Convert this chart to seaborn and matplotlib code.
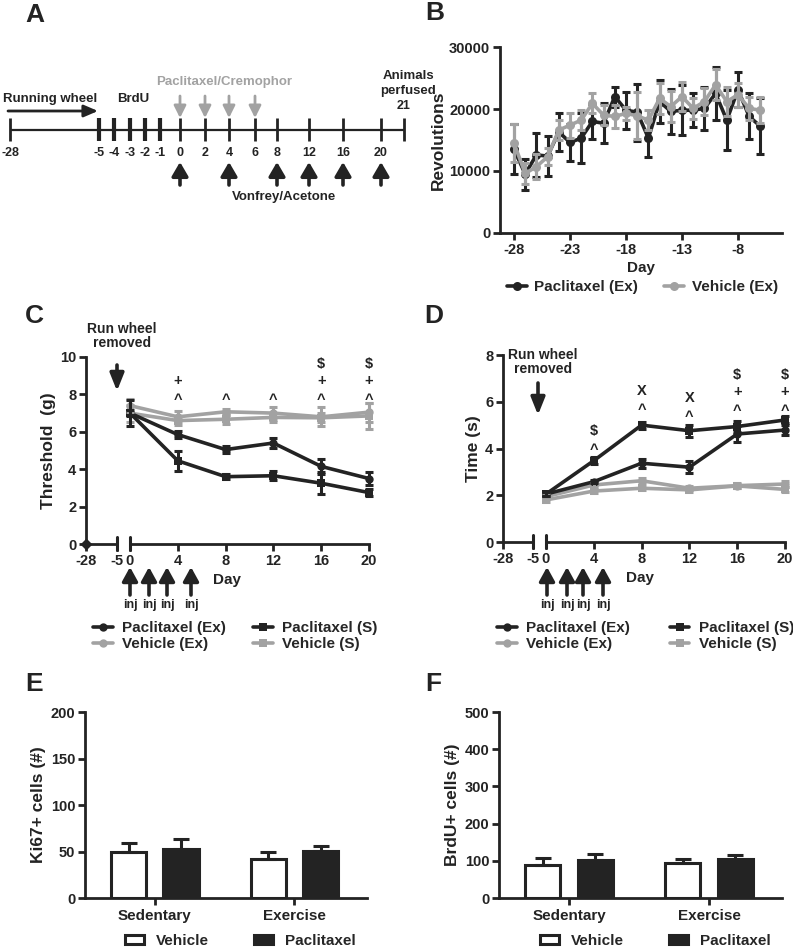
import numpy as np
import pandas as pd
import matplotlib
matplotlib.use("Agg")
import matplotlib.pyplot as plt
from matplotlib.lines import Line2D
from matplotlib.patches import Patch
import seaborn as sns

# ------------------------------------------------------------------ data
# Panel A: experimental timeline
timeline_days = [-28, -5, -4, -3, -2, -1, 0, 2, 4, 6, 8, 12, 16, 20]
timeline_end_day = 21
brdu_days = [-5, -4, -3, -2, -1]
injection_days = [0, 2, 4, 6]
behavior_days = [0, 4, 8, 12, 16, 20]

# Panel B: wheel running (revolutions)
b_days = list(range(-28, -5))
b_pac_mean = [13500, 9500, 12600, 12400, 16300, 14600, 15300, 18000, 17700, 22000, 19800, 19500,
              15300, 21200, 19600, 19800, 19800, 20100, 22500, 18200, 23100, 18800, 17200]
b_pac_sem = [4000, 2500, 3600, 3200, 3000, 3000, 4000, 2800, 3200, 1600, 3000, 4600,
             3000, 3400, 3600, 4000, 2700, 3500, 4300, 4800, 2800, 3700, 4500]
b_veh_mean = [14500, 9600, 10700, 12300, 16600, 17400, 18200, 20900, 19000, 18800, 19300, 18900,
              18200, 21700, 20400, 22000, 20100, 21200, 23900, 21200, 22300, 20100, 19800]
b_veh_sem = [3000, 1700, 2000, 1400, 1600, 2000, 1600, 1600, 1600, 1800, 1100, 3800,
             1600, 2500, 2500, 2300, 1700, 2200, 2500, 2300, 1900, 1900, 2100]

# Panels C/D: behaviour days
cd_days = [0, 4, 8, 12, 16, 20]
cd_groups = ["Paclitaxel (Ex)", "Vehicle (Ex)", "Paclitaxel (S)", "Vehicle (S)"]

# Panel C: von Frey threshold (g)
c_pac_ex = [7.0, 5.85, 5.05, 5.4, 4.15, 3.5]
c_pac_ex_sem = [0.15, 0.2, 0.2, 0.25, 0.4, 0.35]
c_veh_ex = [7.4, 6.8, 7.07, 7.0, 6.8, 7.05]
c_veh_ex_sem = [0.35, 0.3, 0.15, 0.35, 0.5, 0.5]
c_pac_s = [7.0, 4.45, 3.6, 3.65, 3.25, 2.75]
c_pac_s_sem = [0.7, 0.55, 0.15, 0.25, 0.6, 0.2]
c_veh_s = [7.0, 6.6, 6.67, 6.77, 6.75, 6.85]
c_veh_s_sem = [0.45, 0.25, 0.25, 0.25, 0.25, 0.7]
c_sig_days = [4, 8, 12, 16, 20]
c_sig_marks = [["^", "+"], ["^"], ["^"], ["^", "+", "$"], ["^", "+", "$"]]

# Panel D: acetone response time (s)
d_pac_ex = [2.05, 2.58, 3.37, 3.2, 4.62, 4.79]
d_pac_ex_sem = [0.08, 0.06, 0.2, 0.25, 0.35, 0.2]
d_veh_ex = [1.94, 2.44, 2.62, 2.3, 2.41, 2.48]
d_veh_ex_sem = [0.1, 0.08, 0.1, 0.08, 0.1, 0.12]
d_pac_s = [2.05, 3.48, 5.0, 4.76, 4.94, 5.22]
d_pac_s_sem = [0.08, 0.15, 0.15, 0.25, 0.25, 0.15]
d_veh_s = [1.8, 2.18, 2.3, 2.23, 2.4, 2.25]
d_veh_s_sem = [0.1, 0.08, 0.08, 0.1, 0.08, 0.1]
d_sig_days = [4, 8, 12, 16, 20]
d_sig_marks = [["^", "$"], ["^", "X"], ["^", "X"], ["^", "+", "$"], ["^", "+", "$"]]

# Panels E/F: cell counts
ef_groups = ["Sedentary", "Exercise"]
ef_treatments = ["Vehicle", "Paclitaxel"]
e_vehicle = [50, 42]
e_vehicle_sem = [9, 8]
e_paclitaxel = [53, 51]
e_paclitaxel_sem = [10, 5]
f_vehicle = [90, 93]
f_vehicle_sem = [18, 12]
f_paclitaxel = [101, 106]
f_paclitaxel_sem = [17, 9]

# ------------------------------------------------------------------ style / layout
sns.set_theme(style="ticks")
plt.rcParams["font.family"] = ["Liberation Sans", "DejaVu Sans"]
plt.rcParams["font.weight"] = "bold"
plt.rcParams["axes.labelweight"] = "bold"
plt.rcParams["axes.unicode_minus"] = False

W, H, DPI = 793, 947, 100
DARK = "#232323"
GRAY = "#a2a2a2"
TICK_FS = 10.5
LABEL_FS = 12.5
LEG_FS = 11

fig = plt.figure(figsize=(W / DPI, H / DPI), dpi=DPI)
fig.patch.set_facecolor("white")


def rect(x0, y0, x1, y1):
    return [x0 / W, 1 - y1 / H, (x1 - x0) / W, (y1 - y0) / H]


# overlay in pixel coordinates for schematic / annotations
ov = fig.add_axes([0, 0, 1, 1])
ov.set_xlim(0, W)
ov.set_ylim(H, 0)
ov.axis("off")


def arrow(ax, x, y_tail, y_tip, color, lw=2.6, hw=0.3, hl=0.55, ms=14, x_tail=None):
    ax.annotate("", xy=(x, y_tip), xytext=(x if x_tail is None else x_tail, y_tail),
                arrowprops=dict(arrowstyle=f"-|>,head_width={hw},head_length={hl}",
                                color=color, lw=lw, mutation_scale=ms,
                                shrinkA=0, shrinkB=0))


def style_axes(ax, left=True):
    sns.despine(ax=ax)
    for s in ["left", "bottom"]:
        ax.spines[s].set_linewidth(2.0)
        ax.spines[s].set_color(DARK)
    ax.tick_params(width=2, length=5, color=DARK, labelsize=TICK_FS, pad=2,
                   labelcolor=DARK)
    if not left:
        ax.spines["left"].set_visible(False)
        ax.tick_params(axis="y", left=False, labelleft=False)
    ax.set_facecolor("none")
    ax.grid(False)


# panel letters
for letter, (x, y) in {"A": (35, 15), "B": (435, 13), "C": (34, 316),
                       "D": (434, 316), "E": (34, 684), "F": (433, 684)}.items():
    ov.text(x, y, letter, fontsize=19, fontweight="bold", ha="center", va="center", color=DARK)

# ------------------------------------------------------------------ Panel A
timeline_px = [10, 99, 114, 130, 145, 160, 180, 205, 229, 255, 277, 309, 343, 381]
end_px = 404
day_px = dict(zip(timeline_days, timeline_px))
TL_Y = 130
ov.plot([timeline_px[0], end_px + 1], [TL_Y, TL_Y], color=DARK, lw=1.6, solid_capstyle="butt")
for d, x in zip(timeline_days, timeline_px):
    ov.plot([x, x], [118, 141], color=DARK, lw=3.0 if d in brdu_days else 2.0,
            solid_capstyle="butt")
    ov.text(x, 153, str(d), fontsize=9, ha="center", va="center", color=DARK)
ov.plot([end_px, end_px], [118, 141], color=DARK, lw=2.0, solid_capstyle="butt")
ov.text(end_px, 106, str(timeline_end_day), fontsize=9, ha="center", va="center", color=DARK)
ov.text(408, 76, "Animals", fontsize=9.5, ha="center", va="center", color=DARK)
ov.text(408, 91, "perfused", fontsize=9.5, ha="center", va="center", color=DARK)
ov.text(3, 99, "Running wheel", fontsize=9.5, ha="left", va="center", color=DARK)
arrow(ov, 98, 111, 111, DARK, lw=2.0, hw=0.3, hl=0.7, ms=12, x_tail=8)
ov.text(133, 99, "BrdU", fontsize=9.5, ha="center", va="center", color=DARK)
ov.text(224, 82, "Paclitaxel/Cremophor", fontsize=9.5, ha="center", va="center", color=GRAY)
for d in injection_days:
    arrow(ov, day_px[d], 96, 118, GRAY, lw=2.0, hw=0.3, hl=0.6, ms=12)
for d in behavior_days:
    arrow(ov, day_px[d], 185, 162, DARK, lw=2.6, hw=0.35, hl=0.6, ms=14)
ov.text(284, 197, "Vonfrey/Acetone", fontsize=9.5, ha="center", va="center", color=DARK)

# ------------------------------------------------------------------ Panel B
axB = fig.add_axes(rect(500, 47, 782, 233))
nB = len(b_days)
dfB = pd.DataFrame({
    "day": b_days * 2,
    "rev": b_pac_mean + b_veh_mean,
    "sem": b_pac_sem + b_veh_sem,
    "group": ["Paclitaxel (Ex)"] * nB + ["Vehicle (Ex)"] * nB,
})
palB = {"Paclitaxel (Ex)": DARK, "Vehicle (Ex)": GRAY}
sns.lineplot(data=dfB, x="day", y="rev", hue="group", palette=palB, marker="o",
             markersize=6.5, markeredgewidth=0, linewidth=2.6, legend=False,
             errorbar=None, ax=axB)
for i, (g, c) in enumerate(palB.items()):
    sub = dfB[dfB["group"] == g]
    axB.errorbar(sub["day"], sub["rev"], yerr=sub["sem"], fmt="none", ecolor=c,
                 elinewidth=2.2, capsize=3.2, capthick=2.2, zorder=1.9 + i)
style_axes(axB)
axB.set_xlim(-29.25, -4.07)
axB.set_ylim(0, 30000)
axB.set_xticks([-28, -23, -18, -13, -8])
axB.set_yticks([0, 10000, 20000, 30000])
axB.set_xlabel("Day", fontsize=11, labelpad=3, color=DARK)
axB.set_ylabel("Revolutions", fontsize=LABEL_FS, labelpad=2, color=DARK)
hB = [Line2D([0], [0], color=c, marker="o", lw=2.6, ms=6.5, mew=0) for c in palB.values()]
fig.legend(hB, list(palB.keys()), loc="center left", bbox_to_anchor=(507 / W, 1 - 287 / H),
           ncol=2, frameon=False, fontsize=LEG_FS, handlelength=1.3, handletextpad=0.5,
           columnspacing=1.7, borderpad=0, borderaxespad=0)

# ------------------------------------------------------------------ Panels C & D
pal_cd = {"Paclitaxel (Ex)": DARK, "Vehicle (Ex)": GRAY, "Paclitaxel (S)": DARK, "Vehicle (S)": GRAY}
mk_cd = {"Paclitaxel (Ex)": "o", "Vehicle (Ex)": "o", "Paclitaxel (S)": "s", "Vehicle (S)": "s"}


def behaviour_panel(x0, x_break_l, x_break_r, x1, y0, y1, ymax, means, sems,
                    ylabel, sig_days, sig_marks, sig_base, sig_step, origin_marker,
                    label_x_px, legend_x, colspace, wheel_px, inj_px):
    axL = fig.add_axes(rect(x0, y0, x_break_l, y1))
    axR = fig.add_axes(rect(x_break_r, y0, x1, y1), sharey=axL)
    n = len(cd_days)
    df = pd.DataFrame({
        "day": cd_days * 4,
        "value": sum(means, []),
        "sem": sum(sems, []),
        "group": sum([[g] * n for g in cd_groups], []),
    })
    order = ["Vehicle (S)", "Vehicle (Ex)", "Paclitaxel (S)", "Paclitaxel (Ex)"]
    sns.lineplot(data=df, x="day", y="value", hue="group", style="group",
                 hue_order=order, style_order=order, palette=pal_cd, markers=mk_cd,
                 dashes=False, markersize=6, markeredgewidth=0, linewidth=2.6,
                 legend=False, errorbar=None, ax=axR)
    for line in axR.lines:
        line.set_clip_on(False)
    for g in order:
        sub = df[df["group"] == g]
        axR.errorbar(sub["day"], sub["value"], yerr=sub["sem"], fmt="none",
                     ecolor=pal_cd[g], elinewidth=2.2, capsize=3.2, capthick=2.2,
                     clip_on=False)
    if origin_marker:
        axL.plot([-28], [0], marker="D", ms=5.5, color=DARK, clip_on=False, zorder=5)
    style_axes(axL)
    style_axes(axR, left=False)
    axL.set_xlim(-28, -5)
    axR.set_xlim(0, 20)
    axL.set_ylim(0, ymax)
    axL.set_xticks([-28, -5])
    axR.set_xticks(cd_days)
    axL.set_yticks(np.arange(0, ymax + 0.1, 2))
    axL.axvline(-5, ymin=-0.03, ymax=0.035, color=DARK, lw=2.2, clip_on=False)
    axR.axvline(0, ymin=-0.03, ymax=0.035, color=DARK, lw=2.2, clip_on=False)
    axL.set_ylabel(ylabel, fontsize=LABEL_FS, labelpad=3, color=DARK)
    axR.set_ylabel("")
    axL.set_xlabel("")
    axR.set_xlabel("Day", fontsize=11, color=DARK)
    axR.xaxis.set_label_coords((label_x_px - x_break_r) / (x1 - x_break_r), -0.155)
    # significance marks
    for d, marks, base in zip(sig_days, sig_marks, sig_base):
        for k, m in enumerate(marks):
            dy = 0.26 * 10.5 if m == "^" else 0.09 * 10.5
            axR.annotate(m, (d, base + k * sig_step), xytext=(0, -dy),
                         textcoords="offset points", ha="center", va="center",
                         fontsize=10.5, fontweight="bold", color=DARK,
                         annotation_clip=False)
    # run wheel removed
    wx, wy_text, wy_tail, wy_tip = wheel_px
    ov.text(wx, wy_text, "Run wheel\nremoved", fontsize=10, ha="center", va="center",
            linespacing=1.05, color=DARK)
    arrow(ov, wy_tail[0], wy_tail[1], wy_tip, DARK, lw=2.6, hw=0.3, hl=0.75, ms=14)
    # injections
    for x in inj_px:
        arrow(ov, x, 595, 567, DARK, lw=2.6, hw=0.33, hl=0.6, ms=14)
        ov.text(x, 605, "inj", fontsize=9, ha="center", va="center", color=DARK)
    handles = [Line2D([0], [0], color=pal_cd[g], marker=mk_cd[g], lw=2.6, ms=6, mew=0)
               for g in cd_groups]
    fig.legend(handles, cd_groups, loc="center left",
               bbox_to_anchor=(legend_x / W, 1 - 636 / H), ncol=2, frameon=False,
               fontsize=LEG_FS, handlelength=1.3, handletextpad=0.6, labelspacing=0.15,
               columnspacing=colspace, borderpad=0, borderaxespad=0)
    return axL, axR


behaviour_panel(86, 117, 130, 369, 357, 544, 10,
                [c_pac_ex, c_veh_ex, c_pac_s, c_veh_s],
                [c_pac_ex_sem, c_veh_ex_sem, c_pac_s_sem, c_veh_s_sem],
                "Threshold  (g)", c_sig_days, c_sig_marks, [7.9] * 5, 0.9, True,
                227, 93, 1.8, (122, 336, (117, 365), 391), [130, 149, 167, 191])

behaviour_panel(503, 533, 546, 785, 355, 542, 8,
                [d_pac_ex, d_veh_ex, d_pac_s, d_veh_s],
                [d_pac_ex_sem, d_veh_ex_sem, d_pac_s_sem, d_veh_s_sem],
                "Time (s)", d_sig_days, d_sig_marks, [4.1, 5.8, 5.5, 5.77, 5.77], 0.72, False,
                640, 497, 2.6, (543, 362, (538, 383), 415), [547, 567, 583, 603])

# ------------------------------------------------------------------ Panels E & F
def bar_panel(x0, x1, y0, y1, veh, veh_sem, pac, pac_sem, ymax, step, ylabel, legend_x):
    ax = fig.add_axes(rect(x0, y0, x1, y1))
    df = pd.DataFrame({
        "group": ef_groups * 2,
        "treatment": ["Vehicle"] * 2 + ["Paclitaxel"] * 2,
        "value": veh + pac,
    })
    sns.barplot(data=df, x="group", y="value", hue="treatment", order=ef_groups,
                hue_order=ef_treatments, palette={"Vehicle": "white", "Paclitaxel": DARK},
                edgecolor=DARK, linewidth=2.2, width=0.75, gap=0.33, errorbar=None,
                legend=False, ax=ax)
    for cont, sems in zip(ax.containers, [veh_sem, pac_sem]):
        for bar, s in zip(cont, sems):
            xc = bar.get_x() + bar.get_width() / 2
            ax.errorbar([xc], [bar.get_height()], yerr=[[0], [s]], fmt="none",
                        ecolor=DARK, elinewidth=2.2, capsize=6, capthick=2.2, zorder=1)
    style_axes(ax)
    ax.set_xlim(-0.5, 1.52)
    ax.set_ylim(0, ymax)
    ax.set_yticks(np.arange(0, ymax + 1, step))
    ax.set_xlabel("")
    ax.set_ylabel(ylabel, fontsize=LABEL_FS, labelpad=3, color=DARK)
    ax.tick_params(axis="x", labelsize=11, pad=3)
    handles = [Patch(facecolor="white", edgecolor=DARK, lw=2.2),
               Patch(facecolor=DARK, edgecolor=DARK, lw=2.2)]
    fig.legend(handles, ef_treatments, loc="center left",
               bbox_to_anchor=(legend_x / W, 1 - 941 / H), ncol=2, frameon=False,
               fontsize=LEG_FS, handlelength=1.25, handleheight=0.55, handletextpad=0.8,
               columnspacing=2.9, borderpad=0, borderaxespad=0)
    return ax


bar_panel(85, 367, 712, 898, e_vehicle, e_vehicle_sem, e_paclitaxel, e_paclitaxel_sem,
          200, 50, "Ki67+ cells (#)", 125)
bar_panel(499, 782, 712, 898, f_vehicle, f_vehicle_sem, f_paclitaxel, f_paclitaxel_sem,
          500, 100, "BrdU+ cells (#)", 540)

fig.savefig("out.png", dpi=DPI, facecolor="white")
